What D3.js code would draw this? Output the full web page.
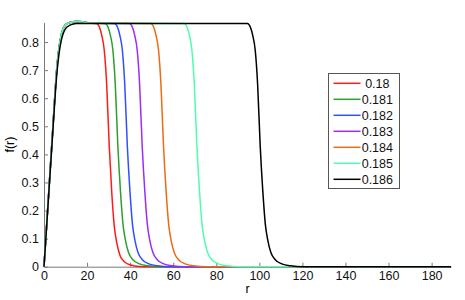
<!DOCTYPE html>
<html>
<head>
<meta charset="utf-8">
<script src="https://cdn.jsdelivr.net/npm/d3@7"></script>
<style>
  body { margin: 0; background: #fff; }
  svg { display: block; font-family: "Liberation Sans", Arial, sans-serif; }
</style>
</head>
<body>
<svg id="chart" width="465" height="300"></svg>
<script>
// legend labels
const labels = [' 0.18', '0.181', '0.182', '0.183', '0.184', '0.185', '0.186']

// rising part shared by the coloured curves
const riseR = [0, 2, 4, 6, 7, 8, 9, 10, 12, 15, 18, 21]
const riseF = [0, 0.24, 0.48, 0.71, 0.78, 0.825, 0.85, 0.862, 0.87, 0.873, 0.872, 0.868]

// black curve bends over a bit later
const riseRBlack = [0, 2, 4, 6, 7, 8, 9, 10, 12, 15, 20]
const riseFBlack = [0, 0.235, 0.47, 0.69, 0.76, 0.805, 0.832, 0.848, 0.86, 0.866, 0.866]

// falling edges
const dropF = [0.866, 0.862, 0.852, 0.825, 0.77, 0.65, 0.43, 0.27, 0.15, 0.095, 0.05, 0.025, 0.01, 0.003, 0]
const dropFRed = [0.866, 0.862, 0.852, 0.825, 0.77, 0.65, 0.43, 0.26, 0.14, 0.085, 0.04, 0.018, 0.006, 0.001, 0]

const dropR018 = [24.3, 25.1, 25.8, 26.8, 28.0, 29.1, 30.3, 31.5, 32.7, 33.8, 35.3, 37.3, 40.3, 44.3, 50.3]
const dropR0181 = [28.3, 29.1, 29.8, 30.8, 32.0, 33.1, 34.3, 35.5, 36.7, 37.8, 39.3, 41.3, 44.3, 48.3, 54.3]
const dropR0182 = [32.7, 33.5, 34.2, 35.2, 36.4, 37.5, 38.7, 39.9, 41.1, 42.2, 43.7, 45.7, 48.7, 52.7, 58.7]
const dropR0183 = [39.6, 40.4, 41.1, 42.1, 43.3, 44.4, 45.6, 46.8, 48.0, 49.1, 50.6, 52.6, 55.6, 59.6, 65.6]
const dropR0184 = [49.5, 50.3, 51.0, 52.0, 53.2, 54.3, 55.5, 56.7, 57.9, 59.0, 60.5, 62.5, 65.5, 69.5, 75.5]
const dropR0185 = [65, 65.8, 66.5, 67.5, 68.7, 69.8, 71, 72.2, 73.4, 74.5, 76, 78, 81, 85, 91]
const dropR0186 = [94.4, 95.2, 95.9, 96.9, 98.1, 99.2, 100.4, 101.6, 102.8, 103.9, 105.4, 107.4, 110.4, 114.4, 120.4]

const rMax = 189
const xTicks = [0, 20, 40, 60, 80, 100, 120, 140, 160, 180]
const yTicks = [0, 0.1, 0.2, 0.3, 0.4, 0.5, 0.6, 0.7, 0.8]

const colors = ['#ff1a1a', '#2e9e2e', '#2f50ff', '#9b2cff', '#ec6c14', '#4dffab', '#000000']

function build(rR, rF, dR, dF) {
  const pts = rR.map((r, i) => [r, rF[i]])
  dR.forEach((r, i) => pts.push([r, dF[i]]))
  pts.push([rMax, 0])
  return pts
}

const series = [
  build(riseR, riseF, dropR018, dropFRed),
  build(riseR, riseF, dropR0181, dropF),
  build(riseR, riseF, dropR0182, dropF),
  build(riseR, riseF, dropR0183, dropF),
  build(riseR, riseF, dropR0184, dropF),
  build(riseR, riseF, dropR0185, dropF),
  build(riseRBlack, riseFBlack, dropR0186, dropF)
]

const margin = { left: 44, right: 14, top: 22.4, bottom: 33.3 }
const width = 465, height = 300
const fontSize = 12.5

const svg = d3.select('#chart')

const x = d3.scaleLinear().domain([0, rMax]).range([margin.left, width - margin.right])
const y = d3.scaleLinear().domain([0, 0.87]).range([height - margin.bottom, margin.top])

// axes, matlab style: ticks inside, no box
const xAxis = svg.append('g')
  .attr('transform', `translate(0, ${height - margin.bottom})`)
  .call(d3.axisBottom(x).tickValues(xTicks).tickSizeInner(-4).tickSizeOuter(0).tickPadding(4.5))

const yAxis = svg.append('g')
  .attr('transform', `translate(${margin.left}, 0)`)
  .call(d3.axisLeft(y).tickValues(yTicks).tickFormat(d => String(d)).tickSizeInner(-4).tickSizeOuter(0).tickPadding(5))

;[xAxis, yAxis].forEach(a => {
  a.select('.domain').attr('stroke', '#7a7a7a')
  a.selectAll('.tick line').attr('stroke', '#7a7a7a')
  a.selectAll('.tick text').attr('fill', '#111').style('font-size', fontSize + 'px').style('font-family', '"Liberation Sans", Arial, sans-serif')
})

// curves
const line = d3.line()
  .x(d => x(d[0]))
  .y(d => y(d[1]))
  .curve(d3.curveMonotoneX)

svg.append('g')
  .selectAll('path')
  .data(series)
  .join('path')
  .attr('fill', 'none')
  .attr('stroke', (d, i) => colors[i])
  .attr('stroke-width', 1.5)
  .attr('stroke-linejoin', 'round')
  .attr('d', line)

// axis labels
svg.append('text')
  .attr('x', (x.range()[0] + x.range()[1]) / 2)
  .attr('y', 293.3)
  .attr('text-anchor', 'middle')
  .style('font-size', fontSize + 'px')
  .text('r')

svg.append('text')
  .attr('transform', `translate(13.5, ${(y.range()[0] + y.range()[1]) / 2}) rotate(-90)`)
  .attr('text-anchor', 'middle')
  .style('font-size', fontSize + 'px')
  .text('f(r)')

// legend
const legend = svg.append('g').attr('transform', 'translate(328.5, 73.5)')
legend.append('rect')
  .attr('width', 71)
  .attr('height', 115)
  .attr('fill', '#fff')
  .attr('stroke', '#555')
  .attr('stroke-width', 1)

const rows = legend.selectAll('g.row')
  .data(labels)
  .join('g')
  .attr('class', 'row')
  .attr('transform', (d, i) => `translate(0, ${9.8 + i * 16})`)

rows.append('line')
  .attr('x1', 5).attr('x2', 32)
  .attr('stroke', (d, i) => colors[i])
  .attr('stroke-width', 1.5)

rows.append('text')
  .attr('x', 33.2)
  .attr('dy', '0.36em')
  .attr('xml:space', 'preserve')
  .style('white-space', 'pre')
  .style('font-size', fontSize + 'px')
  .attr('fill', '#111')
  .text(d => d)
</script>
</body>
</html>
